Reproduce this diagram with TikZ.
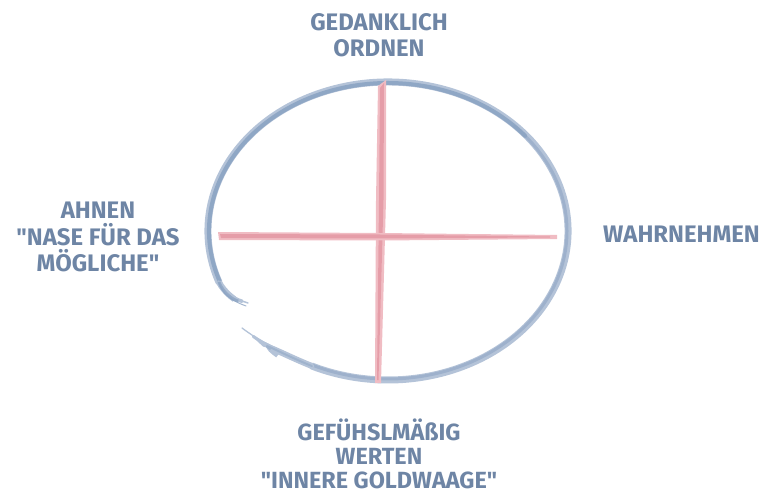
\documentclass[tikz,border=0pt]{standalone}
\usepackage{fontspec}
\newfontfamily\lblfont{Fira Sans}
\definecolor{txt}{HTML}{6E85A5}
\definecolor{ringlight}{HTML}{B4C3D8}
\definecolor{ringdark}{HTML}{8CA4C3}
\definecolor{crosslight}{HTML}{F0BCC3}
\definecolor{crossdark}{HTML}{E396A2}
\begin{document}
\begin{tikzpicture}[x=1bp,y=-1bp,
  lbl/.style={text=txt, font=\lblfont\fontsize{24}{27}\selectfont\bfseries, align=center, inner sep=0pt, anchor=base},
  ringA/.style={draw=ringlight, line width=7bp, line cap=round},
  ringB/.style={draw=ringdark, line width=4bp, line cap=round, opacity=0.9}]
\useasboundingbox (0,0) rectangle (759,493);
\coordinate (c) at (388,231);
% ring
\draw[ringA] ([shift={(160:180 and 149)}]c) arc[start angle=160, end angle=475, x radius=180, y radius=149];
\draw[ringB] ([shift={(160:179 and 148)}]c) arc[start angle=160, end angle=320, x radius=179, y radius=148];
\draw[ringB, opacity=0.55, line width=3bp] ([shift={(315:179 and 148)}]c) arc[start angle=315, end angle=475, x radius=179, y radius=148];
\coordinate (ul) at ([shift={(160:180 and 149)}]c);
\coordinate (ue) at (248,303);
\coordinate (ll) at ([shift={(115:180 and 149)}]c);
\coordinate (le) at (242,328);
% upper tail, tapering
\draw[draw=ringlight, line width=6bp, shorten >=14bp] (ul) .. controls (224,292) and (234,299) .. (ue);
\draw[draw=ringlight, line width=3.5bp, line cap=round, shorten >=6bp] (ul) .. controls (224,292) and (234,299) .. (ue);
\draw[draw=ringlight, line width=1.5bp, line cap=round] (ul) .. controls (224,292) and (234,299) .. (ue);
\draw[draw=ringdark, line width=3bp, opacity=0.8, shorten >=10bp] (ul) .. controls (223,293) and (233,300) .. (ue);
\draw[draw=ringdark, line width=1bp, opacity=0.8, line cap=round] (ul) .. controls (222,294) and (232,301) .. (246,306);
% lower tail, tapering
\draw[draw=ringlight, line width=6bp, shorten >=45bp] (ll) .. controls (282,354) and (258,340) .. (le);
\draw[draw=ringlight, line width=4.5bp, line cap=round, shorten >=28bp] (ll) .. controls (282,354) and (258,340) .. (le);
\draw[draw=ringlight, line width=3bp, line cap=round, shorten >=14bp] (ll) .. controls (282,354) and (258,340) .. (le);
\draw[draw=ringlight, line width=1.3bp, line cap=round] (ll) .. controls (282,354) and (258,340) .. (le);
\draw[draw=ringdark, line width=2bp, opacity=0.5, line cap=round, shorten >=35bp] (ll) .. controls (282,354) and (258,340) .. (le);
% cross
\coordinate (vt) at (383,82);
\coordinate (vb) at (377,383);
\coordinate (hl) at (218,235);
\coordinate (hr) at (557,237);
\fill[crosslight] (378,86) -- (386,80) -- (386,200) -- (381,383) -- (375,383) -- (376,200) -- cycle;
\fill[crossdark, opacity=0.8] (380,88) -- (384,83) -- (383.5,200) -- (378.5,380) -- (377,380) -- (379,200) -- cycle;
\fill[crosslight] (218,232) -- (380,233) -- (557,235) -- (557,239) -- (380,240.5) -- (219,240) -- cycle;
\fill[crossdark, opacity=0.8] (220,234) -- (380,234.5) -- (550,236.5) -- (550,237.5) -- (380,238.5) -- (221,238) -- cycle;
% labels
\node[lbl] (top) at (379,57) {GEDANKLICH\\ORDNEN};
\node[lbl] (left) at (98,272) {AHNEN\\"NASE FÜR DAS\\MÖGLICHE"};
\node[lbl, anchor=base west] (right) at (603,243) {WAHRNEHMEN};
\node[lbl, font=\lblfont\fontsize{23.5}{24}\selectfont\bfseries] (bottom) at (379,488) {GEFÜHSLMÄßIG\\WERTEN\\"INNERE GOLDWAAGE"};
\end{tikzpicture}
\end{document}
